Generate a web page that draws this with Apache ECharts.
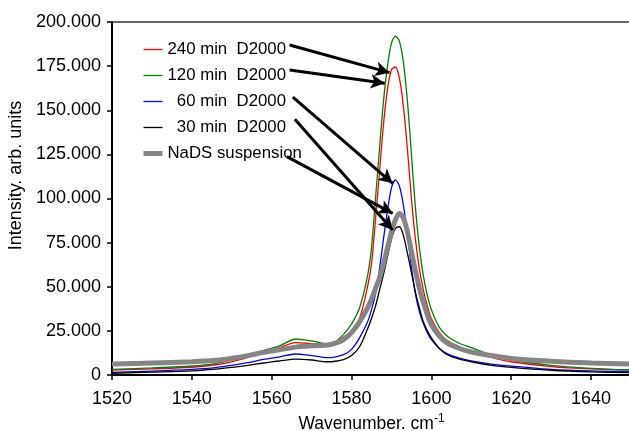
<!DOCTYPE html>
<html>
<head>
<meta charset="utf-8">
<script src="https://cdn.jsdelivr.net/npm/echarts@6/dist/echarts.min.js"></script>
<style>
  html, body { margin: 0; padding: 0; background: #fff; }
  #main { width: 629px; height: 431px; }
</style>
</head>
<body>
<div id="main"></div>
<script>
// wavenumber (cm-1)
var wave = [1520, 1530, 1540, 1546, 1550, 1554, 1558, 1562, 1566, 1570, 1574, 1576, 1578, 1580,
            1582, 1584, 1585, 1586, 1587, 1588, 1589, 1590, 1591, 1592, 1593, 1594, 1595, 1596,
            1597, 1598, 1599, 1600, 1602, 1604, 1607, 1610, 1615, 1620, 1630, 1640, 1650];

// intensity, in thousands
var min240 = [2.8, 3.5, 4.4, 5.8, 7.5, 10, 13, 15.5, 18.3, 17.8, 17.3, 18.5, 21.5, 25,
              32, 50, 63, 88, 115, 142, 162, 173, 174.5, 168, 152, 128, 100, 77,
              60, 48, 39, 32, 24, 19.5, 16, 13.5, 10, 7.5, 4.8, 3.5, 3.0];
var min120 = [3.2, 4.0, 5.1, 6.5, 8.5, 11, 14, 16.5, 20.4, 19.3, 17.6, 19, 23, 29,
              38, 56, 72, 100, 128, 155, 175, 188, 192, 189, 177, 155, 125, 95,
              72, 56, 45, 37, 27, 22, 18, 15.5, 11.5, 8.5, 5.5, 3.8, 2.8];
var min60 = [1.5, 2.2, 3.2, 4.2, 5.5, 7, 8.8, 10.3, 11.9, 11, 9.8, 10.3, 11.5, 14.5,
             21, 30, 37, 46, 60, 77, 93, 106, 110.5, 107, 96, 80, 61, 46,
             36, 29, 24, 20, 15, 12, 9.5, 8, 6.2, 5, 3.2, 2.3, 1.9];
var min30 = [1.0, 1.6, 2.3, 3.3, 4.3, 5.5, 6.8, 8, 9, 8.5, 7.5, 7.8, 8.7, 11,
             16, 26, 32, 39, 48, 57, 67, 77, 83, 84, 79, 69, 58, 47,
             38, 30, 25, 21, 15, 11.5, 9, 7.5, 5.5, 4.3, 2.7, 1.8, 1.3];
var nads = [6.2, 6.8, 7.5, 8.3, 9.5, 11, 12.8, 14.3, 15.8, 16.5, 17, 18, 20, 24,
            30, 38, 43, 49, 55, 63, 72, 81, 88, 91.5, 89, 81, 70, 59,
            49, 41, 34, 28.5, 22, 18, 15, 13, 11, 9.4, 7.8, 6.8, 6.2];

var names = ['240 min  D2000', '120 min  D2000', '  60 min  D2000', '  30 min  D2000', 'NaDS suspension'];
var widths = [1.3, 1.3, 1.3, 1.3, 5];

// arrows from legend labels to the peaks (data units)
var arrowFrom = [[1564.5, 187], [1564.5, 172.8], [1565.3, 157.5], [1565.8, 144.9], [1563.8, 123.7]];
var arrowTo = [[1589.5, 171.3], [1588.3, 165.3], [1590.3, 108.6], [1590.3, 82.2], [1590.3, 91.6]];

function pairs(ys){
    var out = [];
    for (var i = 0; i < wave.length; i++) out.push([wave[i], ys[i]]);
    return out;
}

function spectra(id){
    var myChart = echarts.init(document.getElementById(id));

    var arrows = [];
    for (var i = 0; i < arrowFrom.length; i++) {
        arrows.push([{coord: arrowFrom[i]}, {coord: arrowTo[i]}]);
    }
    var legendData = names.map(function(n, i){
        return {name: n, lineStyle: {width: widths[i]}};
    });

    var font = 'Liberation Sans';
    var option = {
    animation: false,
    textStyle: {fontFamily: font, color: '#000'},
    grid: {left: 112, right: -2, top: 22, bottom: 56, outerBoundsMode: 'none', containLabel: false},
    legend: {
        data: legendData,
        orient: 'vertical',
        left: 136,
        top: 36,
        itemWidth: 19,
        itemHeight: 16,
        itemGap: 9,
        itemStyle: {opacity: 0},
        textStyle: {fontFamily: font, fontSize: 16.8, color: '#000', lineHeight: 16}
    },
    xAxis: [{
        type: 'value',
        min: 1520,
        max: 1650,
        interval: 20,
        name: 'Wavenumber. cm{sup|-1}',
        nameLocation: 'middle',
        nameGap: 37,
        nameTextStyle: {
            fontSize: 17.5, color: '#000',
            rich: {sup: {fontSize: 12, verticalAlign: 'bottom', padding: [0, 0, 10, 0]}}
        },
        axisLine: {lineStyle: {color: '#000', width: 2}},
        axisTick: {length: 5, lineStyle: {color: '#000', width: 1.5}},
        axisLabel: {
            fontSize: 18, color: '#000', margin: 15, showMaxLabel: false,
            formatter: function(v){ return String(v); }
        },
        splitLine: {show: false}
    }, {
        type: 'value',
        position: 'top',
        min: 1520,
        max: 1650,
        axisLine: {lineStyle: {color: '#333', width: 1.5}},
        axisTick: {show: false},
        axisLabel: {show: false},
        splitLine: {show: false}
    }],
    yAxis: {
        type: 'value',
        min: 0,
        max: 200,
        interval: 25,
        name: 'Intensity. arb. units',
        nameLocation: 'middle',
        nameGap: 80,
        nameTextStyle: {fontSize: 18, color: '#000', padding: [0, 0, 0, 46]},
        axisLine: {show: true, lineStyle: {color: '#000', width: 2}},
        axisTick: {show: true, length: 5, lineStyle: {color: '#000', width: 1.5}},
        axisLabel: {
            fontSize: 18, color: '#000', margin: 11,
            formatter: function(v){ return v === 0 ? '0' : v + '.000'; }
        },
        splitLine: {show: false}
    },
    series: [{
        name: names[0],
        type: 'line',
        data: pairs(min240),
        smooth: 0.3,
        symbol: 'none',
        color: '#ff0000',
        lineStyle: {width: widths[0]}
    },
    {
        name: names[1],
        type: 'line',
        data: pairs(min120),
        smooth: 0.3,
        symbol: 'none',
        color: '#008000',
        lineStyle: {width: widths[1]}
    },
    {
        name: names[2],
        type: 'line',
        data: pairs(min60),
        smooth: 0.3,
        symbol: 'none',
        color: '#0000ff',
        lineStyle: {width: widths[2]}
    },
    {
        name: names[3],
        type: 'line',
        data: pairs(min30),
        smooth: 0.3,
        symbol: 'none',
        color: '#000000',
        lineStyle: {width: widths[3]}
    },
    {
        name: names[4],
        type: 'line',
        data: pairs(nads),
        smooth: 0.3,
        symbol: 'none',
        color: '#858585',
        lineStyle: {width: widths[4]},
        markLine: {
            silent: true,
            symbol: ['none', 'arrow'],
            symbolSize: [11, 14],
            label: {show: false},
            lineStyle: {color: '#000', width: 3, type: 'solid'},
            data: arrows
        }
    }]
    };
    myChart.setOption(option);
}

spectra('main');
</script>
</body>
</html>
